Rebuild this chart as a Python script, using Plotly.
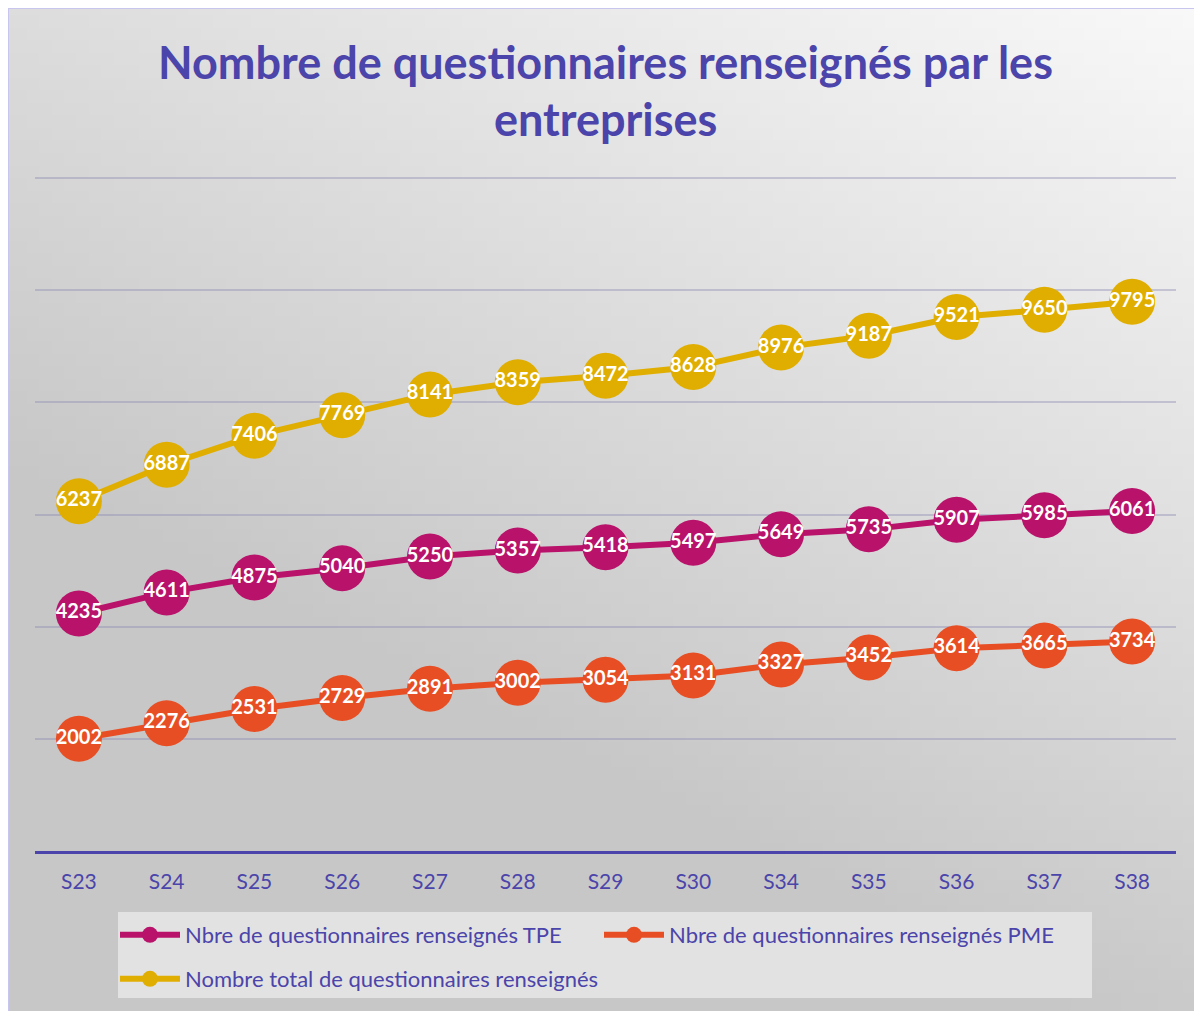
import zlib, struct, base64
import plotly.graph_objects as go

categories = ["S23", "S24", "S25", "S26", "S27", "S28", "S29", "S30", "S34", "S35", "S36", "S37", "S38"]
tpe = [4235, 4611, 4875, 5040, 5250, 5357, 5418, 5497, 5649, 5735, 5907, 5985, 6061]
pme = [2002, 2276, 2531, 2729, 2891, 3002, 3054, 3131, 3327, 3452, 3614, 3665, 3734]
total = [6237, 6887, 7406, 7769, 8141, 8359, 8472, 8628, 8976, 9187, 9521, 9650, 9795]

names = ["Nbre de questionnaires renseignés TPE",
         "Nbre de questionnaires renseignés PME",
         "Nombre total de questionnaires renseignés"]
colors = ["#B8126A", "#E84E24", "#E0AE00"]
legend_ids = ["legend", "legend", "legend2"]
title_lines = ["Nombre de questionnaires renseignés par les", "entreprises"]

# page has an 8px body margin: figure is placed at (8, 8)
OFF = 8
W, H = 1202 - OFF, 1011 - OFF
PURPLE = "#4B44AA"
FONT = "Lato"

px = lambda v: (v - OFF) / W
py = lambda v: 1 - (v - OFF) / H


# background gradient image (style only)
def gradient_png(w=96, h=80):
    raw = b""
    for j in range(h):
        row = bytearray([0])
        for i in range(w):
            dx = (w - 1 - i) / (w - 1)
            dy = j / (h - 1)
            g = 249 - 28 * dx - 46 * dy
            g = max(199, min(250, g))
            row.append(int(g))
        raw += bytes(row)

    def chunk(t, d):
        c = struct.pack(">I", len(d)) + t + d
        return c + struct.pack(">I", zlib.crc32(t + d) & 0xffffffff)
    png = b"\x89PNG\r\n\x1a\n"
    png += chunk(b"IHDR", struct.pack(">IIBBBBB", w, h, 8, 0, 0, 0, 0))
    png += chunk(b"IDAT", zlib.compress(raw, 9))
    png += chunk(b"IEND", b"")
    return "data:image/png;base64," + base64.b64encode(png).decode()


fig = go.Figure()
for name, vals, col, lg in zip(names, [tpe, pme, total], colors, legend_ids):
    fig.add_trace(go.Scatter(
        x=categories, y=vals, name=name, legend=lg,
        mode="lines+markers+text",
        line=dict(color=col, width=6),
        marker=dict(color=col, size=46, line=dict(width=0)),
        text=[str(v) for v in vals],
        textposition="middle center",
        textfont=dict(color="white", size=20, family=FONT, weight="bold"),
        cliponaxis=False,
    ))

# y range: 0..12000 maps to pixel 851..178; add a little headroom so the 12000 gridline shows
ymax = 12000
pad = 120
unit = (851 - 178) / ymax
top_px = 178 - pad * unit

legend_common = dict(
    orientation="h",
    xanchor="left", yanchor="middle",
    bgcolor="rgba(0,0,0,0)",
    font=dict(size=22, color=PURPLE, family=FONT),
    itemwidth=60,
)

fig.update_layout(
    width=W, height=H,
    margin=dict(l=0, r=0, t=0, b=0),
    paper_bgcolor="white",
    plot_bgcolor="rgba(0,0,0,0)",
    font=dict(family=FONT, color=PURPLE),
    xaxis=dict(
        domain=[px(35), px(1176)],
        range=[-0.5, 12.5],
        showgrid=False, zeroline=False,
        showline=True, linecolor=PURPLE, linewidth=3,
        ticks="", tickfont=dict(size=21, color=PURPLE, family=FONT),
        ticklabelstandoff=10,
    ),
    yaxis=dict(
        domain=[py(851), py(top_px)],
        range=[0, ymax + pad],
        dtick=2000, tick0=0,
        showgrid=True, gridcolor="rgba(140,140,180,0.42)", gridwidth=1.5,
        zeroline=False, showticklabels=False, showline=False,
    ),
    legend=dict(legend_common, x=px(115), y=py(935),
                entrywidth=409, entrywidthmode="pixels"),
    legend2=dict(legend_common, x=px(115), y=py(979)),
    annotations=[
        dict(text=t, xref="paper", yref="paper", x=px(605), y=py(yc),
             xanchor="center", yanchor="middle", showarrow=False,
             font=dict(size=45, family=FONT, color=PURPLE, weight="bold"))
        for t, yc in zip(title_lines, [62, 119])
    ],
    images=[dict(
        source=gradient_png(), xref="paper", yref="paper",
        x=0, y=1, sizex=1, sizey=1,
        xanchor="left", yanchor="top", sizing="stretch", layer="below",
    )],
    shapes=[
        dict(type="rect", xref="paper", yref="paper",
             x0=0, x1=1.01, y0=-0.01, y1=1,
             line=dict(color="#C8C6EE", width=2), layer="below"),
        dict(type="rect", xref="paper", yref="paper",
             x0=px(118), x1=px(1092), y0=py(998), y1=py(912),
             fillcolor="#E2E2E2", line=dict(width=0), layer="below"),
    ],
    showlegend=True,
)

fig.write_html("out.html")
